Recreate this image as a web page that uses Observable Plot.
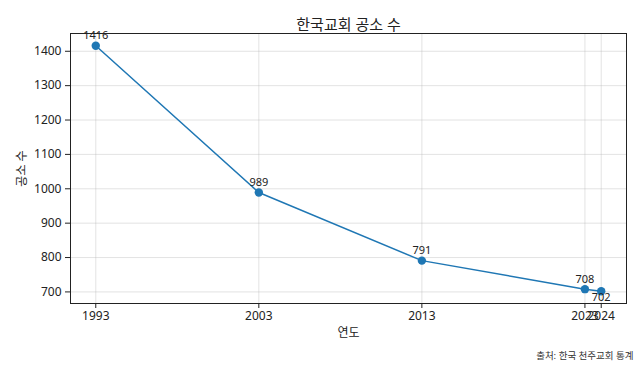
<!DOCTYPE html>
<html>
<head>
<meta charset="utf-8">
<script src="https://cdn.jsdelivr.net/npm/d3@7"></script>
<script src="https://cdn.jsdelivr.net/npm/@observablehq/plot@0.6"></script>
<style>
  html, body { margin: 0; padding: 0; background: #fff; }
  #chart { width: 640px; height: 366px; }
</style>
</head>
<body>
<div id="chart"></div>
<script>
const years = [1993, 2003, 2013, 2023, 2024];
const counts = [1416, 989, 791, 708, 702];
const labelOffsets = [-10, -10, -10, -10, 6];
const yTicks = [700, 800, 900, 1000, 1100, 1200, 1300, 1400];
const titleText = "한국교회 공소 수";
const xLabel = "연도";
const yLabel = "공소 수";
const caption = "출처: 한국 천주교회 통계";

const data = years.map((y, i) => ({year: y, count: counts[i], dy: labelOffsets[i]}));
const font = "'Noto Sans', 'Noto Sans CJK KR', sans-serif";
const blue = "#1f77b4";

const chart = Plot.plot({
  width: 640,
  height: 366,
  marginLeft: 70,
  marginRight: 14,
  marginTop: 33,
  marginBottom: 63,
  style: {fontFamily: font, fontSize: "12px", color: "#222", background: "#fff"},
  x: {domain: [1991.45, 2025.55]},
  y: {domain: [666.3, 1451.7]},
  marks: [
    Plot.gridX(years, {stroke: "#b0b0b0", strokeOpacity: 0.45, strokeWidth: 0.8}),
    Plot.gridY(yTicks, {stroke: "#b0b0b0", strokeOpacity: 0.45, strokeWidth: 0.8}),
    Plot.frame({stroke: "#222", strokeWidth: 1}),
    Plot.axisX({ticks: years, tickFormat: d => String(d), tickSize: 5, tickPadding: 3, label: xLabel, labelAnchor: "center", labelArrow: false, labelOffset: 33, fontSize: 12}),
    Plot.axisY({ticks: yTicks, tickFormat: d3.format("d"), tickSize: 5, tickPadding: 4, label: yLabel, labelAnchor: "center", labelArrow: false, labelOffset: 53, fontSize: 12}),
    Plot.line(data, {x: "year", y: "count", stroke: blue, strokeWidth: 1.5}),
    Plot.dot(data, {x: "year", y: "count", fill: blue, r: 4.2}),
    Plot.text(data.filter(d => d.dy < 0), {x: "year", y: "count", text: d => String(d.count), dy: -10, fontSize: 11, fill: "#222"}),
    Plot.text(data.filter(d => d.dy > 0), {x: "year", y: "count", text: d => String(d.count), dy: 6, fontSize: 11, fill: "#222"}),
    Plot.text([titleText], {frameAnchor: "top", dy: -14, fontSize: 15, fill: "#222"}),
    Plot.text([caption], {frameAnchor: "bottom-right", dx: 7, dy: 55, fontSize: 9.5, fill: "#333", textAnchor: "end"})
  ]
});
document.getElementById("chart").appendChild(chart);
</script>
</body>
</html>
